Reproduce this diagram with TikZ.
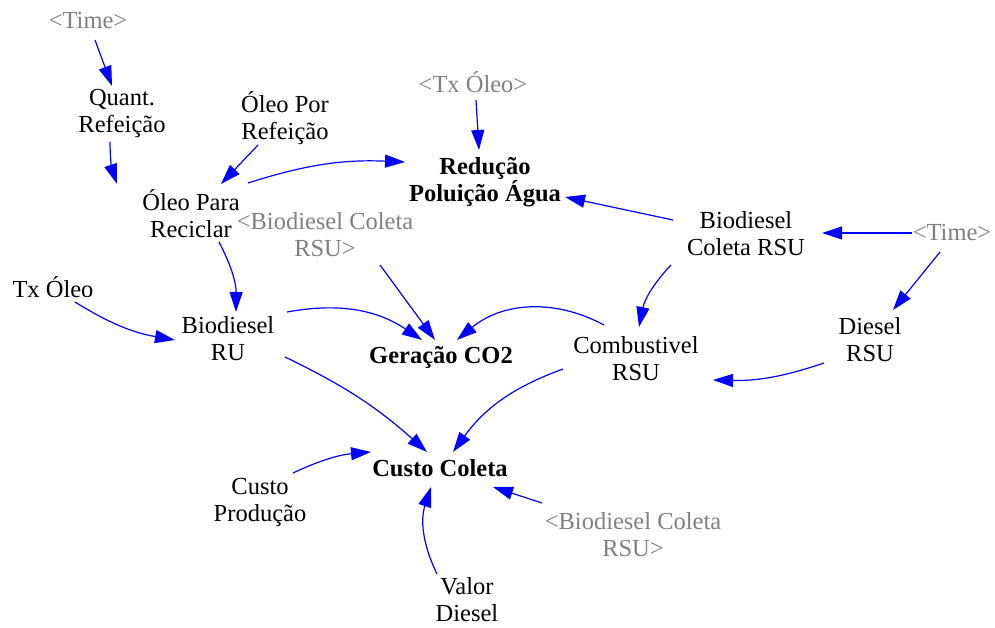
\documentclass[tikz,border=0pt]{standalone}
\usepackage{fontspec}
\setmainfont{Liberation Serif}
\usetikzlibrary{arrows.meta,calc}
\definecolor{shadowgray}{RGB}{128,128,128}
\definecolor{linkblue}{RGB}{0,0,255}
\begin{document}
\begin{tikzpicture}[x=1pt,y=1pt,
  v/.style={align=center,inner sep=0pt,font=\fontsize{24.5}{27}\selectfont},
  sh/.style={v,text=shadowgray},
  bv/.style={v,font=\fontsize{24.5}{27}\selectfont\bfseries},
  link/.style={draw=linkblue,line width=1.2pt,-{Triangle[length=20pt,width=13pt]}}]
\useasboundingbox (0,0) rectangle (995,628);
% nodes
\node[sh] (timeA) at (88,607) {<Time>};
\node[v] (quant) at (122,514) {Quant.\\Refeição};
\node[v] (oleopor) at (285,510) {Óleo Por\\Refeição};
\node[v] (oleopara) at (191,414) {Óleo Para\\Reciclar};
\node[sh] (txoleoS) at (473,546) {<Tx Óleo>};
\node[bv] (reducao) at (485,446) {Redução\\Poluição Água};
\node[sh] (bcrsuS1) at (325,393) {<Biodiesel Coleta\\RSU>};
\node[v] (bcrsu) at (746,394) {Biodiesel\\Coleta RSU};
\node[sh] (timeB) at (952,395) {<Time>};
\node[v] (txoleo) at (53,341) {Tx Óleo};
\node[v] (bru) at (228,289) {Biodiesel\\RU};
\node[bv] (co2) at (441,271) {Geração CO2};
\node[v] (comb) at (636,269) {Combustivel\\RSU};
\node[v] (diesel) at (870,288) {Diesel\\RSU};
\node[bv] (custo) at (440,160) {Custo Coleta};
\node[v] (custoprod) at (260,125) {Custo\\Produção};
\node[sh] (bcrsuS2) at (633,93) {<Biodiesel Coleta\\RSU>};
\node[v] (valor) at (467,28) {Valor\\Diesel};
% links
\draw[link] ($(timeA)+(7,-19)$) -- ($(quant)+(-10,28)$);
\draw[link] ($(quant)+(-12,-28)$) to[bend right=9] ($(oleopara)+(-74,30)$);
\draw[link] ($(oleopor)+(-27,-27)$) -- ($(oleopara)+(30,30)$);
\draw[link] ($(oleopara)+(57,31)$) to[bend left=10] ($(reducao)+(-80,20)$);
\draw[link] ($(txoleoS)+(3,-18)$) -- ($(reducao)+(-6,32)$);
\draw[link] ($(bcrsu)+(-73,14)$) -- ($(reducao)+(80,-15)$);
\draw[link] ($(timeB)+(-40,0)$) -- ($(bcrsu)+(76,1)$);
\draw[link] ($(timeB)+(-12,-19)$) -- ($(diesel)+(23,30)$);
\draw[link] ($(bcrsu)+(-75,-31)$) to[bend right=16] ($(comb)+(3,32)$);
\draw[link] ($(diesel)+(-46,-23)$) to[bend left=10] ($(comb)+(77,-21)$);
\draw[link] ($(comb)+(-32,34)$) to[bend right=34] ($(co2)+(16,17)$);
\draw[link] ($(bcrsuS1)+(55,-30)$) -- ($(co2)+(-6,17)$);
\draw[link] ($(bru)+(59,27)$) to[bend left=22] ($(co2)+(-19,17)$);
\draw[link] ($(oleopara)+(28,-28)$) to[bend left=14] ($(bru)+(8,27)$);
\draw[link] ($(txoleo)+(22,-15)$) to[bend right=11] ($(bru)+(-53,-1)$);
\draw[link] ($(bru)+(57,-18)$) to[bend left=8] ($(custo)+(-13,16)$);
\draw[link] ($(comb)+(-73,-10)$) to[bend right=17] ($(custo)+(13,16)$);
\draw[link] ($(custoprod)+(33,30)$) to[bend left=10] ($(custo)+(-69,16)$);
\draw[link] ($(bcrsuS2)+(-91,32)$) -- ($(custo)+(53,-19)$);
\draw[link] ($(valor)+(-30,26)$) to[bend left=22] ($(custo)+(-9,-19)$);
\end{tikzpicture}
\end{document}
